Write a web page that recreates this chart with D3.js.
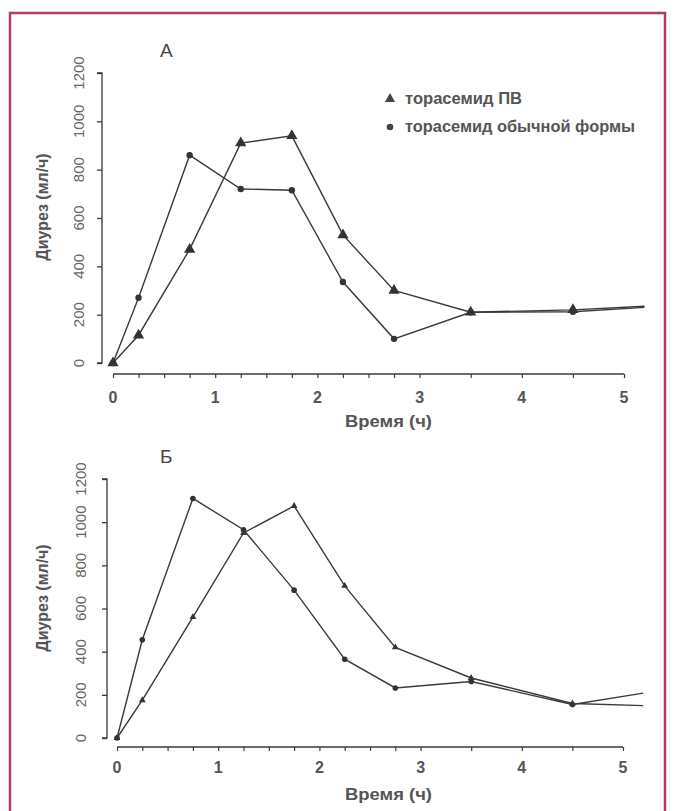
<!DOCTYPE html>
<html><head><meta charset="utf-8">
<script src="https://cdn.jsdelivr.net/npm/d3@7"></script>
<style>
html,body{margin:0;padding:0;background:#fff;}
svg{display:block;}
text{font-family:"Liberation Sans",Arial,sans-serif;}
</style></head>
<body>
<script>
// ---- data ----
const times = [0, 0.25, 0.75, 1.25, 1.75, 2.25, 2.75, 3.5, 4.5, 5.2]; // last = line end, no marker
const markerCount = 9;
const xTicks = [0,0.25,0.5,0.75,1,1.25,1.5,1.75,2,2.25,2.5,2.75,3,3.5,4,4.5,5];
const xTickLabels = [0,1,2,3,4,5];
const yTicks = [0,200,400,600,800,1000,1200];
const seriesNames = ["торасемид ПВ", "торасемид обычной формы"];
const panelLabels = ["А", "Б"];
const topPV      = [0, 115, 470, 910, 940, 530, 300, 210, 220, 235];
const topRegular = [0, 270, 860, 720, 715, 335, 100, 210, 212, 230];
const botPV      = [0, 175, 560, 950, 1075, 705, 420, 278, 160, 150];
const botRegular = [0, 455, 1110, 965, 685, 365, 232, 262, 155, 208];
const yLabel = "Диурез (мл/ч)";
const xLabel = "Время (ч)";

const W = 677, H = 811;
const svg = d3.select("body").append("svg").attr("width", W).attr("height", H);

// frame
svg.append("rect").attr("x", 10).attr("y", 13).attr("width", 655).attr("height", 820)
  .attr("fill", "none").attr("stroke", "#b23a6c").attr("stroke-width", 2.5);

const ink = "#3a3a3a";
const textCol = "#555";

function panel(cfg) {
  const x = d3.scaleLinear().domain([0, 5]).range([cfg.x0, cfg.x5]);
  const y = d3.scaleLinear().domain([0, 1200]).range([cfg.y0, cfg.y1200]);
  const g = svg.append("g");

  // y axis
  const ya = g.append("g").attr("transform", `translate(${cfg.yAxisX},0)`)
    .call(d3.axisLeft(y).tickValues(yTicks).tickSize(5).tickFormat(""));
  ya.select(".domain").attr("stroke", ink).attr("stroke-width", 1.3).attr("d", `M-5,${y(1200)}H0V${y(0)}H-5`);
  ya.selectAll(".tick line").attr("stroke", ink).attr("stroke-width", 1.3);
  g.selectAll(".ylab").data(yTicks).enter().append("text")
    .attr("transform", d => `translate(${cfg.yLabX},${y(d)}) rotate(-90)`)
    .attr("text-anchor", "middle").attr("font-size", 15).attr("fill", "#666")
    .text(d => d);

  // x axis
  const xa = g.append("g").attr("transform", `translate(0,${cfg.xAxisY})`)
    .call(d3.axisBottom(x).tickValues(xTicks).tickSize(4).tickFormat(""));
  xa.select(".domain").attr("stroke", ink).attr("stroke-width", 1.5).attr("d", `M${x(0)},0H${x(5)}`);
  xa.selectAll(".tick line").attr("stroke", ink).attr("stroke-width", 1.2);
  g.selectAll(".xlab").data(xTickLabels).enter().append("text")
    .attr("x", d => x(d)).attr("y", cfg.xAxisY + cfg.xLabDy)
    .attr("text-anchor", "middle").attr("font-size", 16).attr("font-weight", "bold").attr("fill", textCol)
    .text(d => d);

  // axis titles
  g.append("text").attr("x", 345).attr("y", cfg.xAxisY + 53)
    .attr("font-size", 17).attr("font-weight", "bold").attr("fill", textCol)
    .attr("textLength", 87).attr("lengthAdjust", "spacingAndGlyphs").text(xLabel);
  g.append("text").attr("transform", `translate(48,${cfg.yLabelY}) rotate(-90)`).attr("text-anchor", "middle")
    .attr("font-size", 16).attr("font-weight", "bold").attr("fill", textCol).text(yLabel);
  g.append("text").attr("x", cfg.letterX).attr("y", cfg.letterY)
    .attr("font-size", 19).attr("fill", "#444").text(cfg.letter);

  const line = d3.line().x((d, i) => x(times[i])).y(d => y(d));
  [cfg.pv, cfg.reg].forEach(s => {
    g.append("path").attr("d", line(s)).attr("fill", "none").attr("stroke", ink).attr("stroke-width", 1.4);
  });
  const pts = s => s.slice(0, markerCount).map((v, i) => [x(times[i]), y(v)]);
  // regular: circles
  g.selectAll(".c").data(pts(cfg.reg)).enter().append("circle")
    .attr("cx", d => d[0]).attr("cy", d => d[1]).attr("r", cfg.circR).attr("fill", "#333");
  // PV: triangles
  g.selectAll(".t").data(pts(cfg.pv)).enter().append("path")
    .attr("d", d3.symbol().type(d3.symbolTriangle).size(cfg.triSize))
    .attr("transform", d => `translate(${d[0]},${d[1]})`).attr("fill", "#333");
}

panel({x0: 113, x5: 624, y0: 363, y1200: 73, yAxisX: 102, yLabX: 84, xAxisY: 374, xLabDy: 29, yLabelY: 207,
  letter: panelLabels[0], letterX: 160, letterY: 57, pv: topPV, reg: topRegular, circR: 3.2, triSize: 55});
panel({x0: 117, x5: 623, y0: 738, y1200: 479, yAxisX: 107, yLabX: 86, xAxisY: 747, xLabDy: 26, yLabelY: 598,
  letter: panelLabels[1], letterX: 160, letterY: 463, pv: botPV, reg: botRegular, circR: 2.8, triSize: 20});

// legend
const lg = svg.append("g");
lg.append("path").attr("d", d3.symbol().type(d3.symbolTriangle).size(45))
  .attr("transform", "translate(390,99)").attr("fill", "#444");
lg.append("circle").attr("cx", 390).attr("cy", 127).attr("r", 3.3).attr("fill", "#444");
lg.append("text").attr("x", 405).attr("y", 104).attr("font-size", 16).attr("font-weight", "bold")
  .attr("fill", textCol).attr("textLength", 117).attr("lengthAdjust", "spacingAndGlyphs").text(seriesNames[0]);
lg.append("text").attr("x", 405).attr("y", 132).attr("font-size", 16).attr("font-weight", "bold")
  .attr("fill", textCol).attr("textLength", 230).attr("lengthAdjust", "spacingAndGlyphs").text(seriesNames[1]);
</script>
</body></html>
